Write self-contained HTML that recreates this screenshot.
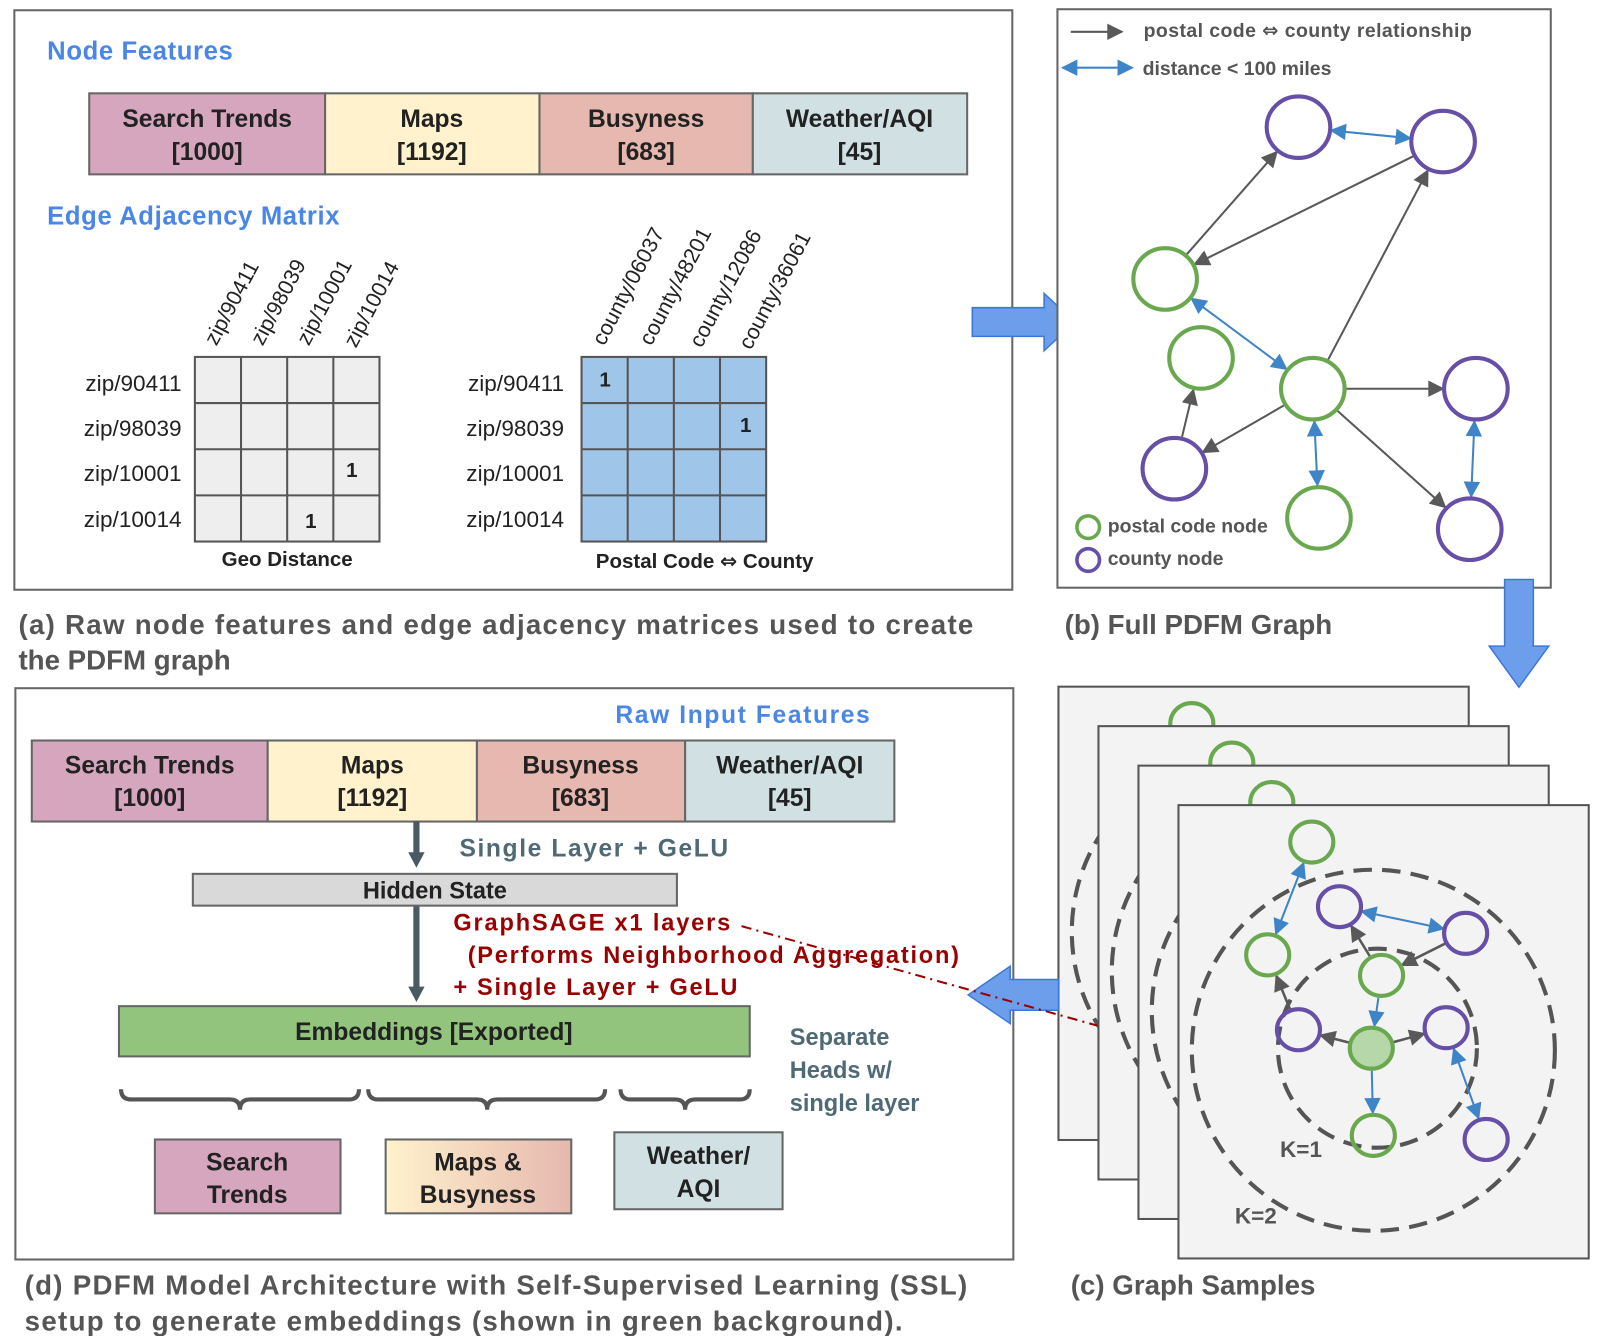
<!DOCTYPE html>
<html><head><meta charset="utf-8"><style>
html,body{margin:0;padding:0;background:#fff}
svg{display:block}
text{font-family:"Liberation Sans",Arial,sans-serif}
.b{font-weight:bold}
.n{font-family:"Liberation Sans Narrow","Liberation Sans",sans-serif}
.dj{font-family:"DejaVu Sans",sans-serif}
</style></head><body>
<svg id="s" width="1600" height="1336" viewBox="0 0 1560 1302.6" xmlns="http://www.w3.org/2000/svg">
<defs>
<marker id="mg" viewBox="0 0 10 10" refX="9" refY="5" markerWidth="9" markerHeight="8" orient="auto-start-reverse" markerUnits="strokeWidth"><path d="M0,0L10,5L0,10z" fill="#595959"/></marker>
<marker id="mb" viewBox="0 0 10 10" refX="9" refY="5" markerWidth="10" markerHeight="8" orient="auto-start-reverse" markerUnits="strokeWidth"><path d="M0,0L10,5L0,10z" fill="#3d85c6"/></marker>
<marker id="mgc" viewBox="0 0 10 10" refX="9" refY="5" markerWidth="7" markerHeight="6.5" orient="auto-start-reverse" markerUnits="strokeWidth"><path d="M0,0L10,5L0,10z" fill="#595959"/></marker>
<marker id="mbc" viewBox="0 0 10 10" refX="9" refY="5" markerWidth="9" markerHeight="8" orient="auto-start-reverse" markerUnits="strokeWidth"><path d="M0,0L10,5L0,10z" fill="#3d85c6"/></marker>
<marker id="mg2" viewBox="0 0 10 10" refX="9" refY="5" markerWidth="9" markerHeight="8" orient="auto-start-reverse" markerUnits="strokeWidth"><path d="M0,0L10,5L0,10z" fill="#595959"/></marker>
<marker id="mb2" viewBox="0 0 10 10" refX="9" refY="5" markerWidth="10" markerHeight="8" orient="auto-start-reverse" markerUnits="strokeWidth"><path d="M0,0L10,5L0,10z" fill="#3d85c6"/></marker>
<linearGradient id="gmb" x1="0" x2="1"><stop offset="0" stop-color="#fff2cc"/><stop offset="1" stop-color="#e6b8af"/></linearGradient>
</defs>

<!-- Panel a -->
<rect x="14" y="10" width="973" height="565" fill="#fff" stroke="#666" stroke-width="2"/>
<text x="46" y="58" class="b" font-size="25" fill="#4a86e8" textLength="181">Node Features</text>
<g stroke="#666" stroke-width="2">
<rect x="87" y="91" width="230" height="79" fill="#d5a6bd"/>
<rect x="317" y="91" width="209" height="79" fill="#fff2cc"/>
<rect x="526" y="91" width="208" height="79" fill="#e6b8af"/>
<rect x="734" y="91" width="209" height="79" fill="#d0e0e3"/>
</g>
<g class="b" font-size="24" fill="#222" text-anchor="middle">
<text x="202" y="124">Search Trends</text><text x="202" y="156">[1000]</text>
<text x="421" y="124">Maps</text><text x="421" y="156">[1192]</text>
<text x="630" y="124">Busyness</text><text x="630" y="156">[683]</text>
<text x="838" y="124">Weather/AQI</text><text x="838" y="156">[45]</text>
</g>
<text x="46" y="219" class="b" font-size="25" fill="#4a86e8" textLength="285">Edge Adjacency Matrix</text>

<g stroke="#555" stroke-width="2" fill="#eeeeee">
<rect x="190" y="348" width="180" height="180"/>
<path d="M235,348V528M280,348V528M325,348V528M190,393H370M190,438H370M190,483H370" fill="none"/>
</g>
<g stroke="#555" stroke-width="2" fill="#9fc5e8">
<rect x="567" y="348" width="180" height="180"/>
<path d="M612,348V528M657,348V528M702,348V528M567,393H747M567,438H747M567,483H747" fill="none"/>
</g>
<g class="n" font-size="22" fill="#222" text-anchor="end">
<text x="177" y="381">zip/90411</text><text x="177" y="425">zip/98039</text><text x="177" y="469">zip/10001</text><text x="177" y="514">zip/10014</text>
<text x="550" y="381">zip/90411</text><text x="550" y="425">zip/98039</text><text x="550" y="469">zip/10001</text><text x="550" y="514">zip/10014</text>
</g>
<g class="n" font-size="21" fill="#222">
<text transform="translate(211,338) rotate(-62)">zip/90411</text>
<text transform="translate(256,338) rotate(-62)">zip/98039</text>
<text transform="translate(301,338) rotate(-62)">zip/10001</text>
<text transform="translate(347,340) rotate(-62)">zip/10014</text>
<text transform="translate(589,338) rotate(-62)">county/06037</text>
<text transform="translate(635,338) rotate(-62)">county/48201</text>
<text transform="translate(684,340) rotate(-62)">county/12086</text>
<text transform="translate(732,342) rotate(-62)">county/36061</text>
</g>
<g class="b" font-size="20" fill="#222" text-anchor="middle">
<text x="343" y="465">1</text><text x="303" y="515">1</text>
<text x="590" y="377">1</text><text x="727" y="421">1</text>
<text x="280" y="552">Geo Distance</text>
<text x="687" y="554">Postal Code <tspan class="dj">⇔</tspan> County</text>
</g>
<path d="M948,300H1018V286L1048,314L1018,342V328H948z" fill="#6d9eeb" stroke="#3c78d8" stroke-width="1.5"/>
<g class="b" font-size="27" fill="#555">
<text x="18" y="618" textLength="931">(a) Raw node features and edge adjacency matrices used to create</text>
<text x="18" y="653">the PDFM graph</text>
<text x="1038" y="618">(b) Full PDFM Graph</text>
<text x="1044" y="1262">(c) Graph Samples</text>
<text x="24" y="1262" textLength="919">(d) PDFM Model Architecture with Self-Supervised Learning (SSL)</text>
<text x="24" y="1297" textLength="856">setup to generate embeddings (shown in green background).</text>
</g>

<!-- Panel b -->
<rect x="1031" y="9" width="481" height="564" fill="#fff" stroke="#666" stroke-width="2"/>
<line x1="1044" y1="31" x2="1094" y2="31" stroke="#595959" stroke-width="2" marker-end="url(#mg2)"/>
<line x1="1036" y1="66" x2="1104" y2="66" stroke="#3d85c6" stroke-width="2" marker-start="url(#mb2)" marker-end="url(#mb2)"/>
<g class="b" font-size="19" fill="#555">
<text x="1115" y="36" textLength="320">postal code <tspan class="dj">⇔</tspan> county relationship</text>
<text x="1114" y="73">distance &lt; 100 miles</text>
<text x="1080" y="519">postal code node</text>
<text x="1080" y="551">county node</text>
</g>
<circle cx="1061" cy="514" r="11" fill="none" stroke="#6aa84f" stroke-width="3.5"/>
<circle cx="1061" cy="546" r="11" fill="none" stroke="#674ea7" stroke-width="3.5"/>
<g id="gb"></g>

<!-- Panel c -->
<g id="gc"></g>
<g class="b" font-size="22" fill="#555">
<text x="1248" y="1128">K=1</text>
<text x="1204" y="1193">K=2</text>
</g>
<path d="M1467,565H1495V630H1510L1481,670L1452,630H1467z" fill="#6d9eeb" stroke="#3c78d8" stroke-width="1.5"/>

<!-- Panel d -->
<rect x="15" y="671" width="973" height="557" fill="#fff" stroke="#666" stroke-width="2"/>
<path d="M1032,955H985V942L944,970L985,998V985H1032z" fill="#6d9eeb" stroke="#3c78d8" stroke-width="1.5"/>
<text x="600" y="705" class="b" font-size="24" fill="#4a86e8" textLength="248">Raw Input  Features</text>
<g stroke="#666" stroke-width="2">
<rect x="31" y="722" width="230" height="79" fill="#d5a6bd"/>
<rect x="261" y="722" width="204" height="79" fill="#fff2cc"/>
<rect x="465" y="722" width="203" height="79" fill="#e6b8af"/>
<rect x="668" y="722" width="204" height="79" fill="#d0e0e3"/>
</g>
<g class="b" font-size="24" fill="#222" text-anchor="middle">
<text x="146" y="754">Search Trends</text><text x="146" y="786">[1000]</text>
<text x="363" y="754">Maps</text><text x="363" y="786">[1192]</text>
<text x="566" y="754">Busyness</text><text x="566" y="786">[683]</text>
<text x="770" y="754">Weather/AQI</text><text x="770" y="786">[45]</text>
</g>
<g fill="#4a5a63"><rect x="403" y="801" width="6" height="32"/><path d="M398,831H414L406,846z"/>
<rect x="403" y="883" width="6" height="82"/><path d="M398,962H414L406,977z"/></g>
<text x="448" y="835" class="b" font-size="24" fill="#4f6a75" textLength="262">Single Layer  + GeLU</text>
<rect x="188" y="852" width="472" height="31" fill="#d9d9d9" stroke="#666" stroke-width="2"/>
<text x="424" y="876" class="b" font-size="23" fill="#222" text-anchor="middle">Hidden State</text>
<g class="b" font-size="23" fill="#990000">
<text x="442" y="907" textLength="270">GraphSAGE x1 layers</text>
<text x="456" y="939" textLength="479">(Performs Neighborhood Aggregation)</text>
<text x="442" y="970" textLength="277">+ Single Layer + GeLU</text>
</g>
<line x1="723" y1="903" x2="1070" y2="1000" stroke="#990000" stroke-width="2" stroke-dasharray="10,5,2,5"/>
<rect x="116" y="981" width="615" height="49" fill="#93c47d" stroke="#666" stroke-width="2"/>
<text x="423" y="1014" class="b" font-size="24" fill="#222" text-anchor="middle">Embeddings [Exported]</text>
<g class="b" font-size="23" fill="#4f6a75">
<text x="770" y="1019">Separate</text><text x="770" y="1051">Heads w/</text><text x="770" y="1083">single layer</text>
</g>
<g fill="none" stroke="#555" stroke-width="4">
<path d="M118,1062q0,10 10,10H224q10,0 10,10q0,-10 10,-10H340q10,0 10,-10"/>
<path d="M359,1062q0,10 10,10H465q10,0 10,10q0,-10 10,-10H580q10,0 10,-10"/>
<path d="M605,1062q0,10 10,10H658q10,0 10,10q0,-10 10,-10H721q10,0 10,-10"/>
</g>
<g stroke="#666" stroke-width="2">
<rect x="151" y="1111" width="181" height="72" fill="#d5a6bd"/>
<rect x="376" y="1111" width="181" height="72" fill="url(#gmb)"/>
<rect x="599" y="1104" width="164" height="75" fill="#d0e0e3"/>
</g>
<g class="b" font-size="24" fill="#222" text-anchor="middle">
<text x="241" y="1141">Search</text><text x="241" y="1173">Trends</text>
<text x="466" y="1141">Maps &amp;</text><text x="466" y="1173">Busyness</text>
<text x="681" y="1135">Weather/</text><text x="681" y="1167">AQI</text>
</g>
</svg>
<script>
var NS="http://www.w3.org/2000/svg";
function el(p,t,a){var e=document.createElementNS(NS,t);for(var k in a)e.setAttribute(k,a[k]);p.appendChild(e);return e;}
function edge(p,A,B,rA,rB,col,mk,two,w){
 var dx=B[0]-A[0],dy=B[1]-A[1],L=Math.hypot(dx,dy),ux=dx/L,uy=dy/L;
 var a={x1:A[0]+ux*rA,y1:A[1]+uy*rA,x2:B[0]-ux*rB,y2:B[1]-uy*rB,stroke:col,"stroke-width":w,"marker-end":"url(#"+mk+")"};
 if(two)a["marker-start"]="url(#"+mk+")";
 el(p,"line",a);
}
var gb=document.getElementById("gb");
var P=[[1266,124],[1407,138],[1439,379],[1145,457],[1433,516]];
var G=[[1136,272],[1171,349],[1280,379],[1286,505]];
var R=32,GR="#595959",BL="#3d85c6";
edge(gb,G[0],P[0],R,R,GR,"mg",0,2);
edge(gb,P[1],G[0],R,R,GR,"mg",0,2);
edge(gb,G[2],P[1],R,R,GR,"mg",0,2);
edge(gb,G[2],P[2],R,R,GR,"mg",0,2);
edge(gb,G[2],P[3],R,R,GR,"mg",0,2);
edge(gb,G[2],P[4],R,R,GR,"mg",0,2);
edge(gb,P[3],G[1],R,R,GR,"mg",0,2);
edge(gb,P[0],P[1],R,R,BL,"mb",1,2);
edge(gb,G[0],G[2],R,R,BL,"mb",1,2);
edge(gb,G[2],G[3],R,R,BL,"mb",1,2);
edge(gb,P[2],P[4],R,R,BL,"mb",1,2);
P.forEach(function(c){el(gb,"ellipse",{cx:c[0],cy:c[1],rx:31,ry:30,fill:"none",stroke:"#674ea7","stroke-width":4});});
G.forEach(function(c){el(gb,"ellipse",{cx:c[0],cy:c[1],rx:31,ry:30,fill:"none",stroke:"#6aa84f","stroke-width":4});});
var gc=document.getElementById("gc");
for(var k=3;k>=0;k--){
 var ox=-39*k,oy=-38.5*k;
 var g=el(gc,"g",{transform:"translate("+ox+","+oy+")"});
 el(g,"rect",{x:1149,y:785,width:400,height:442,fill:"#f3f3f3",stroke:"#555","stroke-width":2});
 var cp="cp"+k;
 var d=el(g,"clipPath",{id:cp});el(d,"rect",{x:1149,y:785,width:400,height:442});
 var h=el(g,"g",{"clip-path":"url(#"+cp+")"});
 el(h,"ellipse",{cx:1339,cy:1024,rx:177,ry:176,fill:"none",stroke:"#555","stroke-width":4,"stroke-dasharray":"18,10"});
 el(h,"ellipse",{cx:1343,cy:1022,rx:97,ry:97,fill:"none",stroke:"#555","stroke-width":4,"stroke-dasharray":"18,10"});
 var C=[1337,1022],g1=[1279,821],g2=[1236,931],g3=[1347,951],g4=[1339,1107];
 var p1=[1306,884],p2=[1429,910],p3=[1266,1004],p4=[1410,1002],p5=[1449,1111],r=22;
 edge(h,C,p3,r,r,GR,"mgc",0,2.5);
 edge(h,C,p4,r,r,GR,"mgc",0,2.5);
 edge(h,p3,g2,r,r,GR,"mgc",0,2.5);
 edge(h,g3,p1,r,r,GR,"mgc",0,2.5);
 edge(h,p2,g3,r,r,GR,"mgc",0,2.5);
 edge(h,g1,g2,r,r,BL,"mbc",1,2);
 edge(h,p1,p2,r,r,BL,"mbc",1,2);
 edge(h,g3,C,r,r,BL,"mbc",0,2);
 edge(h,C,g4,r,r,BL,"mbc",0,2);
 edge(h,p4,p5,r,r,BL,"mbc",1,2);
 el(h,"ellipse",{cx:C[0],cy:C[1],rx:21,ry:20,fill:"#b6d7a8",stroke:"#6aa84f","stroke-width":4});
 [g1,g2,g3,g4].forEach(function(c){el(h,"ellipse",{cx:c[0],cy:c[1],rx:21,ry:20,fill:"none",stroke:"#6aa84f","stroke-width":4});});
 [p1,p2,p3,p4,p5].forEach(function(c){el(h,"ellipse",{cx:c[0],cy:c[1],rx:21,ry:20,fill:"none",stroke:"#674ea7","stroke-width":4});});
}
</script>
</body></html>
